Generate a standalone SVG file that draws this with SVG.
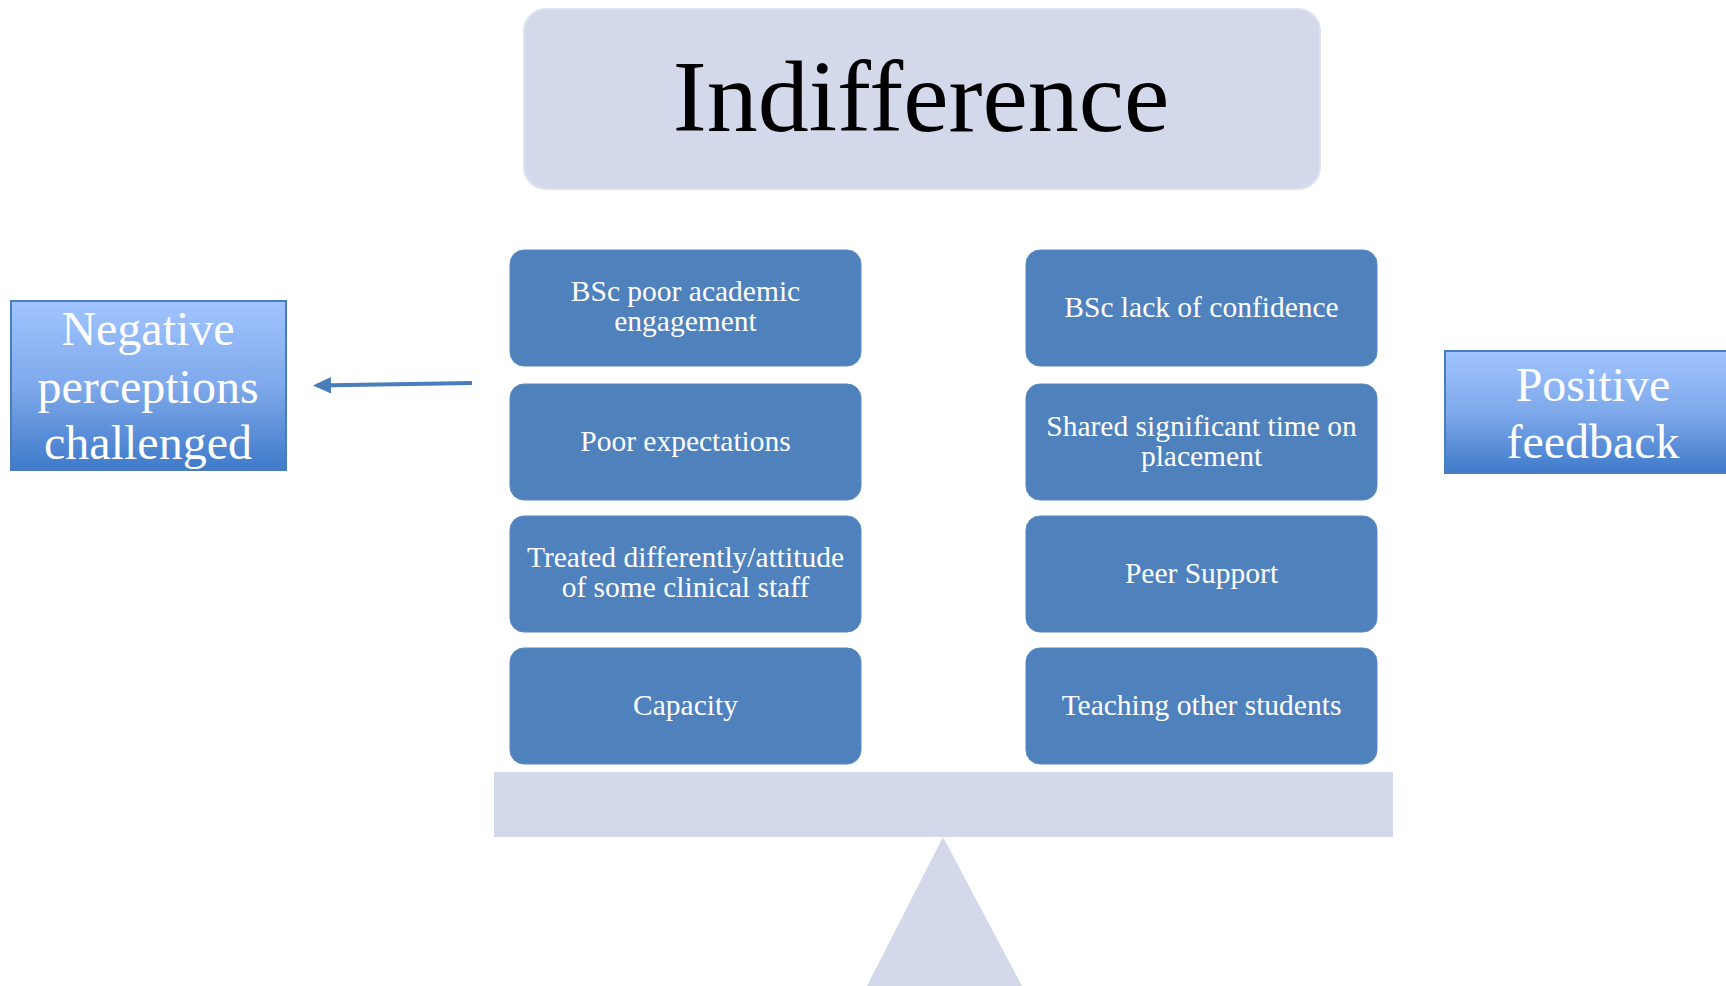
<svg xmlns="http://www.w3.org/2000/svg" width="1726" height="986" viewBox="0 0 1726 986">
<defs>
<linearGradient id="g" x1="0" y1="0" x2="0" y2="1">
<stop offset="0" stop-color="#a0c4ff"/>
<stop offset="0.5" stop-color="#7fa9eb"/>
<stop offset="1" stop-color="#3f7ac9"/>
</linearGradient>
<marker id="ah" markerWidth="5" markerHeight="5" refX="3.5" refY="2.5" orient="auto" markerUnits="strokeWidth">
<path d="M4.5,2.5 L0,0.4 L0,4.6 Z" fill="#4a7ebb"/>
</marker>
<style>
.node rect{fill:#4f81bd;stroke:#5a89c2;stroke-width:1}
.t{font-family:"Liberation Serif","Times New Roman",serif;fill:#ffffff;font-size:29.5px;text-anchor:middle}
.big{font-family:"Liberation Serif","Times New Roman",serif;fill:#ffffff;font-size:48px;text-anchor:middle}
.light{fill:#d3d9ea}
</style>
</defs>
<rect width="1726" height="986" fill="#ffffff"/>

<g id="indifference">
<rect x="524" y="9" width="796" height="180" rx="22" class="light" stroke="#dde2ef" stroke-width="2"/>
<text x="921" y="131" font-family="Liberation Serif,'Times New Roman',serif" font-size="102" text-anchor="middle" fill="#000">Indifference</text>
</g>

<g id="balance">
<rect x="494" y="772" width="899" height="65" class="light"/>
<polygon points="943,837 1022,986 867,986" class="light"/>
</g>

<g id="n-bsc-poor" class="node"><rect x="510" y="250" width="351" height="116" rx="14"/>
<text class="t" x="685.5" y="301">BSc poor academic</text><text class="t" x="685.5" y="331">engagement</text></g>
<g id="n-poor-exp" class="node"><rect x="510" y="384" width="351" height="116" rx="14"/>
<text class="t" x="685.5" y="451">Poor expectations</text></g>
<g id="n-treated" class="node"><rect x="510" y="516" width="351" height="116" rx="14"/>
<text class="t" x="685.5" y="567">Treated differently/attitude</text><text class="t" x="685.5" y="597">of some clinical staff</text></g>
<g id="n-capacity" class="node"><rect x="510" y="648" width="351" height="116" rx="14"/>
<text class="t" x="685.5" y="715">Capacity</text></g>

<g id="n-bsc-lack" class="node"><rect x="1026" y="250" width="351" height="116" rx="14"/>
<text class="t" x="1201.5" y="317">BSc lack of confidence</text></g>
<g id="n-shared" class="node"><rect x="1026" y="384" width="351" height="116" rx="14"/>
<text class="t" x="1201.5" y="436">Shared significant time on</text><text class="t" x="1201.5" y="466">placement</text></g>
<g id="n-peer" class="node"><rect x="1026" y="516" width="351" height="116" rx="14"/>
<text class="t" x="1201.5" y="583">Peer Support</text></g>
<g id="n-teaching" class="node"><rect x="1026" y="648" width="351" height="116" rx="14"/>
<text class="t" x="1201.5" y="715">Teaching other students</text></g>

<g id="negative">
<rect x="11" y="301" width="275" height="169" fill="url(#g)" stroke="#4a7ebb" stroke-width="2"/>
<text class="big" x="148" y="345">Negative</text>
<text class="big" x="148" y="403">perceptions</text>
<text class="big" x="148" y="459">challenged</text>
</g>

<g id="positive">
<rect x="1445" y="351" width="290" height="122" fill="url(#g)" stroke="#4a7ebb" stroke-width="2"/>
<text class="big" x="1593" y="401">Positive</text>
<text class="big" x="1593" y="458">feedback</text>
</g>

<g id="connectors">
<line x1="472" y1="383" x2="317" y2="385.5" stroke="#4a7ebb" stroke-width="4" marker-end="url(#ah)"/>
</g>
</svg>
